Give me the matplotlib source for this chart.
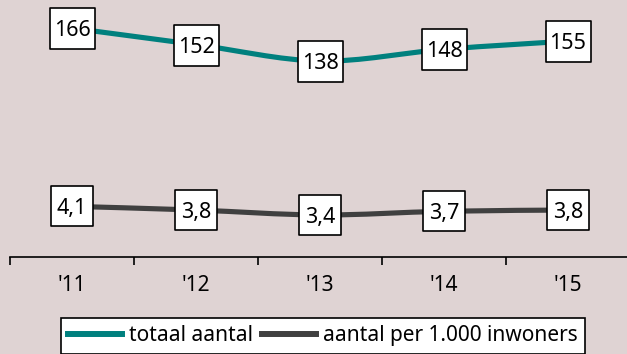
import numpy as np
import matplotlib
matplotlib.use("Agg")
import matplotlib.pyplot as plt
from matplotlib.path import Path
from matplotlib.patches import PathPatch
from matplotlib.lines import Line2D

plt.rcParams['font.family'] = ['Noto Sans', 'DejaVu Sans']

# data
jaren = ["'11", "'12", "'13", "'14", "'15"]
totaal = [166, 152, 138, 148, 155]
per_1000 = [4.1, 3.8, 3.4, 3.7, 3.8]
labels_per_1000 = ['4,1', '3,8', '3,4', '3,7', '3,8']

bg = '#dfd3d3'
teal = '#00807e'
grijs = '#404040'


# smooth curve (excel style) through the points
def smooth_path(xs, ys):
    pts = np.column_stack([xs, ys]).astype(float)
    verts = [pts[0]]
    codes = [Path.MOVETO]
    n = len(pts)
    for i in range(n - 1):
        p0 = pts[i - 1] if i > 0 else pts[i]
        p1 = pts[i]
        p2 = pts[i + 1]
        p3 = pts[i + 2] if i + 2 < n else pts[i + 1]
        c1 = p1 + (p2 - p0) / 6
        c2 = p2 - (p3 - p1) / 6
        verts += [c1, c2, p2]
        codes += [Path.CURVE4] * 3
    return Path(verts, codes)


def rect_marker(w, h):
    return Path([(-w / 2, -h / 2), (w / 2, -h / 2), (w / 2, h / 2),
                 (-w / 2, h / 2), (-w / 2, -h / 2)],
                [Path.MOVETO, Path.LINETO, Path.LINETO, Path.LINETO, Path.CLOSEPOLY])


fig = plt.figure(figsize=(6.27, 3.54), dpi=100, facecolor=bg)
ax = fig.add_axes([10 / 627, 97 / 354, 620 / 627, 257 / 354])
ax.set_facecolor('none')
ax2 = ax.twinx()

x = np.arange(len(jaren))

ax.add_patch(PathPatch(smooth_path(x, totaal), fill=False, edgecolor=teal,
                       lw=3.7, capstyle='butt', zorder=2))
ax2.add_patch(PathPatch(smooth_path(x, per_1000), fill=False, edgecolor=grijs,
                        lw=3.7, capstyle='butt', zorder=2))

# boxes behind the value labels (marker size in points: 45px wide)
ax.plot(x, totaal, ls='none', marker=rect_marker(45, 41), markersize=32.4,
        mfc='white', mec='black', mew=1.2, zorder=4)
ax2.plot(x, per_1000, ls='none', marker=rect_marker(42, 41), markersize=30.2,
         mfc='white', mec='black', mew=1.2, zorder=4)

for xi, v in zip(x, totaal):
    ax.annotate(str(v), (xi, v), xytext=(0, -5.8), textcoords='offset points',
                ha='center', va='baseline', fontsize=15.5, zorder=5)
for xi, v, lab in zip(x, per_1000, labels_per_1000):
    ax2.annotate(lab, (xi, v), xytext=(0, -5.8), textcoords='offset points',
                 ha='center', va='baseline', fontsize=15.5, zorder=5)

ax.set_xlim(-0.5, 4.5)
ax.set_ylim(-29, 190)
ax2.set_ylim(0, 20.8)

for a in (ax, ax2):
    for s in ('top', 'right', 'left'):
        a.spines[s].set_visible(False)
ax2.spines['bottom'].set_visible(False)
ax.spines['bottom'].set_linewidth(1.2)
ax.set_yticks([])
ax2.set_yticks([])

ax.set_xticks(x)
ax.set_xticklabels(jaren, fontsize=15, fontweight='bold')
ax.set_xticks(np.arange(-0.5, 5, 1), minor=True)
ax.tick_params(axis='x', which='major', length=0, pad=13)
ax.tick_params(axis='x', which='minor', length=6, width=1.2, direction='out')

handles = [Line2D([], [], color=teal, lw=4.3),
           Line2D([], [], color=grijs, lw=4.3)]
leg = fig.legend(handles, ['totaal aantal', 'aantal per 1.000 inwoners'],
                 loc='upper center', bbox_to_anchor=(323 / 627, 36 / 354),
                 borderaxespad=0, ncol=2, frameon=True, fancybox=False,
                 edgecolor='black', facecolor='white', framealpha=1,
                 handlelength=2.6, handletextpad=0.35, columnspacing=0.4,
                 borderpad=0.35, prop={'size': 15, 'weight': 'bold'})
leg.get_frame().set_linewidth(1.2)

fig.savefig('out.png', dpi=100, facecolor=bg)
